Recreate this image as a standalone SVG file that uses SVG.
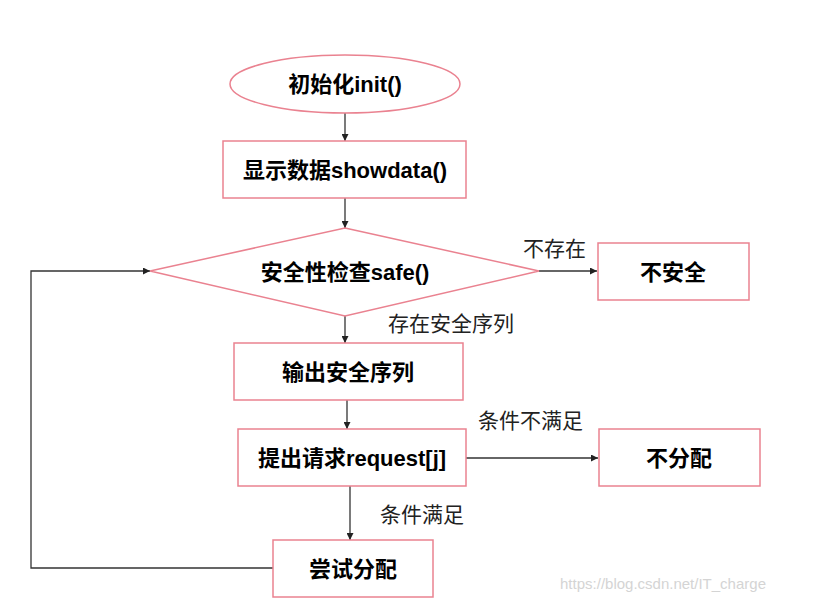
<svg xmlns="http://www.w3.org/2000/svg" width="839" height="603" viewBox="0 0 839 603">
<style>
.node{fill:#fff;stroke:#EA8290;stroke-width:1.5}
.nt{font-family:"Liberation Sans","Noto Sans CJK SC",sans-serif;font-weight:bold;font-size:22px;fill:#000;text-anchor:middle;dominant-baseline:central}
.el{font-family:"Liberation Serif","Noto Sans CJK SC",serif;font-size:21px;fill:#222}
.c{fill:none;stroke:#333;stroke-width:1.3;marker-end:url(#ah)}
</style>
<defs>
<marker id="ah" viewBox="0 0 10 10" refX="10" refY="5" markerWidth="7" markerHeight="7" markerUnits="userSpaceOnUse" orient="auto">
<path d="M0,0 L10,5 L0,10 z" fill="#222"/>
</marker>
</defs>
<rect width="839" height="603" fill="#fff"/>
<g id="connectors">
<line class="c" x1="345" y1="113" x2="345" y2="141"/>
<line class="c" x1="345" y1="198" x2="345" y2="228"/>
<line class="c" x1="539" y1="271" x2="597" y2="271"/>
<line class="c" x1="345" y1="316" x2="345" y2="343"/>
<line class="c" x1="347" y1="400" x2="347" y2="429"/>
<line class="c" x1="466" y1="458" x2="598" y2="458"/>
<line class="c" x1="350" y1="486" x2="350" y2="540"/>
<polyline class="c" points="273,568 31,568 31,271 150,271"/>
<text class="el" x="523" y="256">不存在</text>
<text class="el" x="388" y="331">存在安全序列</text>
<text class="el" x="478" y="428">条件不满足</text>
<text class="el" x="380" y="522">条件满足</text>
</g>
<g id="init">
<ellipse class="node" cx="345" cy="84" rx="115" ry="29"/>
<text class="nt" x="345" y="84">初始化init()</text>
</g>
<g id="showdata">
<rect class="node" x="223" y="141" width="243" height="57"/>
<text class="nt" x="345" y="170">显示数据showdata()</text>
</g>
<g id="safe">
<polygon class="node" points="345,228 539,271 345,316 150,271"/>
<text class="nt" x="345" y="272">安全性检查safe()</text>
</g>
<g id="unsafe">
<rect class="node" x="598" y="243" width="151" height="57"/>
<text class="nt" x="673" y="272">不安全</text>
</g>
<g id="output">
<rect class="node" x="234" y="343" width="229" height="57"/>
<text class="nt" x="348" y="372">输出安全序列</text>
</g>
<g id="request">
<rect class="node" x="238" y="429" width="228" height="57"/>
<text class="nt" x="352" y="458">提出请求request[j]</text>
</g>
<g id="noalloc">
<rect class="node" x="599" y="429" width="161" height="57"/>
<text class="nt" x="679" y="458">不分配</text>
</g>
<g id="try">
<rect class="node" x="273" y="540" width="160" height="57"/>
<text class="nt" x="353" y="569">尝试分配</text>
</g>
<text x="766" y="589" text-anchor="end" font-family="Liberation Sans Narrow,Liberation Sans,sans-serif" font-size="15" fill="#d4d4d4">https://blog.csdn.net/IT_charge</text>
</svg>
